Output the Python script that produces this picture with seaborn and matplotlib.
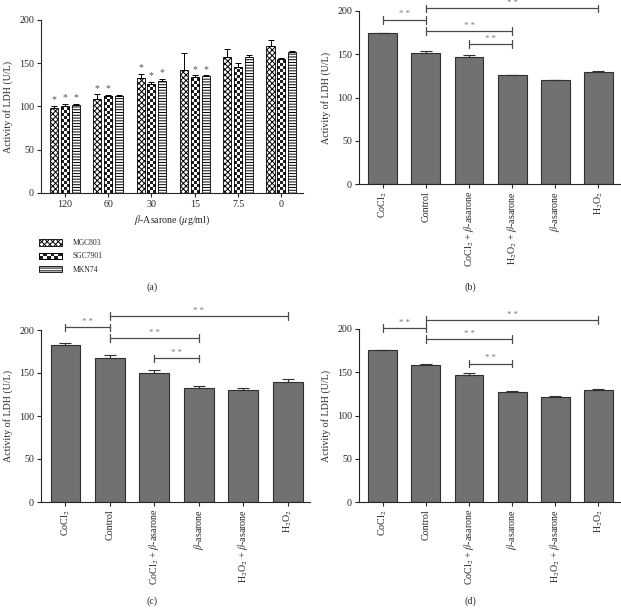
import numpy as np
import pandas as pd
import matplotlib
matplotlib.use("Agg")
import matplotlib.pyplot as plt
import seaborn as sns
from matplotlib.patches import Patch, Rectangle
from matplotlib.legend_handler import HandlerBase

# =========================================================
# DATA
# =========================================================
doses = ["120", "60", "30", "15", "7.5", "0"]
cell_lines = ["MGC803", "SGC7901", "MKN74"]
mgc803 = [98, 109, 133, 142, 157, 170]
mgc803_err = [2.5, 5, 4.5, 20, 9.5, 7]
sgc7901 = [100, 112, 126, 134, 145.5, 155]
sgc7901_err = [2.5, 1.5, 2, 2, 4.5, 1]
mkn74 = [101.5, 112, 129.5, 135, 157, 163]
mkn74_err = [1.5, 1, 2.5, 1, 2.5, 1.5]
star_a = [[1, 1, 1, 0, 0, 0], [1, 1, 1, 1, 0, 0], [1, 0, 1, 1, 0, 0]]

cats_b = ["CoCl$_2$", "Control", "CoCl$_2$ + $\\beta$-asarone",
          "H$_2$O$_2$ + $\\beta$-asarone", "$\\beta$-asarone", "H$_2$O$_2$"]
vals_b = [174, 151.7, 146.7, 125.5, 119.7, 129]
errs_b = [1, 1.5, 3, 1, 1, 1.5]
brackets_b = [(0, 1, 190), (1, 5, 203), (1, 3, 177), (2, 3, 162)]

cats_cd = ["CoCl$_2$", "Control", "CoCl$_2$ + $\\beta$-asarone",
           "$\\beta$-asarone", "H$_2$O$_2$ + $\\beta$-asarone", "H$_2$O$_2$"]
vals_c = [182, 168, 150.5, 132, 130, 140]
errs_c = [3, 2.5, 3, 2.5, 3, 2.5]
brackets_c = [(0, 1, 203), (1, 5, 216), (1, 3, 190.5), (2, 3, 167)]

vals_d = [175.3, 158.8, 146.8, 126.8, 121.8, 130]
errs_d = [0.8, 1.2, 2.2, 1.8, 0.7, 1]
brackets_d = [(0, 1, 201), (1, 5, 210), (1, 3, 188.5), (2, 3, 160)]

# =========================================================
# STYLE
# =========================================================
sns.set_style("ticks")
plt.rcParams["font.family"] = ["Liberation Serif", "DejaVu Serif"]
plt.rcParams["mathtext.fontset"] = "stix"
plt.rcParams["hatch.linewidth"] = 0.7
plt.rcParams["axes.linewidth"] = 0.8

BAR_GREY = "#717171"
EDGE = "#303030"
LINE = "#4a4a4a"
FS = 7.2
CHECKER = np.array([[0.12, 1.0], [1.0, 0.12]])

fig = plt.figure(figsize=(6.21, 6.14), dpi=100)
ax_a = fig.add_axes([41 / 621, 1 - 193 / 614, 262 / 621, 173 / 614])
ax_b = fig.add_axes([359 / 621, 1 - 184 / 614, 261 / 621, 173 / 614])
ax_c = fig.add_axes([41 / 621, 1 - 502 / 614, 269 / 621, 172 / 614])
ax_d = fig.add_axes([359 / 621, 1 - 502 / 614, 261 / 621, 173 / 614])


def style_axis(ax):
    sns.despine(ax=ax)
    ax.set_ylim(0, 200)
    ax.set_yticks([0, 50, 100, 150, 200])
    ax.set_xlim(-0.55, 5.5)
    ax.tick_params(axis="both", labelsize=FS, length=3, width=0.8, pad=2)
    ax.set_ylabel("Activity of LDH (U/L)", fontsize=FS, labelpad=4)
    ax.set_xlabel("")


def checker_fill(ax, bar, ncols=3, sq_y=3.4):
    # black/white checker texture clipped to the bar
    x0, w, h = bar.get_x(), bar.get_width(), bar.get_height()
    nrows = int(np.ceil(h / sq_y))
    grid = np.indices((nrows, ncols)).sum(axis=0) % 2
    img = np.where(grid == 0, 0.12, 1.0)
    im = ax.imshow(img, extent=[x0, x0 + w, 0, nrows * sq_y], origin="lower",
                   cmap="gray", vmin=0, vmax=1, aspect="auto",
                   interpolation="nearest", zorder=bar.get_zorder() - 0.05)
    im.set_clip_path(bar)
    bar.set_facecolor("none")


class CheckerHandler(HandlerBase):
    def create_artists(self, legend, orig_handle, xdescent, ydescent,
                       width, height, fontsize, trans):
        arts = [Rectangle((-xdescent, -ydescent), width, height,
                          facecolor="white", edgecolor="black", lw=0.6,
                          transform=trans)]
        nc, nr = 6, 2
        cw, ch = width / nc, height / nr
        for i in range(nr):
            for j in range(nc):
                if (i + j) % 2 == 0:
                    arts.append(Rectangle((-xdescent + j * cw, -ydescent + i * ch),
                                          cw, ch, facecolor="#1e1e1e",
                                          lw=0, transform=trans))
        arts.append(Rectangle((-xdescent, -ydescent), width, height,
                              facecolor="none", edgecolor="black", lw=0.6,
                              transform=trans))
        return arts


# =========================================================
# (a) grouped bars with hatches
# =========================================================
df_a = pd.DataFrame({
    "dose": doses * 3,
    "line": np.repeat(cell_lines, len(doses)),
    "ldh": mgc803 + sgc7901 + mkn74,
})
sns.barplot(data=df_a, x="dose", y="ldh", hue="line", order=doses,
            hue_order=cell_lines, errorbar=None, width=0.75, gap=0.25,
            palette=["white"] * 3, edgecolor="black", linewidth=0.6,
            legend=False, ax=ax_a)
hatches = ["xxxxxx", None, "------"]
errs_a = [mgc803_err, sgc7901_err, mkn74_err]
vals_a = [mgc803, sgc7901, mkn74]
bar_groups = list(ax_a.containers)
for k, cont in enumerate(bar_groups):
    xs = []
    for bar in cont:
        if hatches[k]:
            bar.set_hatch(hatches[k])
        else:
            checker_fill(ax_a, bar)
        xs.append(bar.get_x() + bar.get_width() / 2)
    xs = np.array(xs)
    ax_a.errorbar(xs, vals_a[k], yerr=[np.zeros(6), errs_a[k]], fmt="none",
                  ecolor="black", elinewidth=0.7, capsize=2, capthick=0.7)
    for i, s in enumerate(star_a[k]):
        if s:
            ax_a.text(xs[i], vals_a[k][i] + errs_a[k][i] + 2, "*",
                      ha="center", va="bottom", fontsize=7, color="#555555")
style_axis(ax_a)
ax_a.set_xlabel("$\\it{\\beta}$-Asarone ($\\it{\\mu}$g/ml)", fontsize=FS,
                labelpad=3)

handles = [Patch(facecolor="white", edgecolor="black", hatch="xxxxxx", lw=0.6),
           Patch(facecolor="white", edgecolor="black", lw=0.6),
           Patch(facecolor="white", edgecolor="black", hatch="------", lw=0.6)]
fig.legend(handles, cell_lines, loc="upper left",
           bbox_to_anchor=(36 / 621, 1 - 236 / 614), frameon=False,
           fontsize=5.5, handlelength=3.0, handleheight=0.9,
           labelspacing=0.7, handletextpad=1.4, borderaxespad=0,
           handler_map={handles[1]: CheckerHandler()})

# =========================================================
# (b), (c), (d) single bars with significance brackets
# =========================================================
def draw_panel(ax, cats, vals, errs, brackets):
    sns.barplot(x=cats, y=vals, order=cats, color=BAR_GREY, saturation=1,
                edgecolor=EDGE, linewidth=0.8, width=0.67, errorbar=None,
                ax=ax)
    xs = np.array([b.get_x() + b.get_width() / 2 for b in ax.patches])
    ax.errorbar(xs, vals, yerr=[np.zeros(len(vals)), errs], fmt="none",
                ecolor=EDGE, elinewidth=0.8, capsize=4.5, capthick=0.8)
    for i0, i1, y in brackets:
        ax.plot([xs[i0], xs[i1]], [y, y], color=LINE, lw=0.9,
                clip_on=False)
        for xx in (xs[i0], xs[i1]):
            ax.plot([xx, xx], [y - 4.5, y + 4.5], color=LINE, lw=0.9,
                    clip_on=False)
        ax.text((xs[i0] + xs[i1]) / 2, y + 1.5, "* *", ha="center",
                va="bottom", fontsize=6.3, color="#777777", clip_on=False)
    style_axis(ax)
    ax.tick_params(axis="x", rotation=90)


draw_panel(ax_b, cats_b, vals_b, errs_b, brackets_b)
draw_panel(ax_c, cats_cd, vals_c, errs_c, brackets_c)
draw_panel(ax_d, cats_cd, vals_d, errs_d, brackets_d)

for lab, x, y in [("(a)", 152, 287), ("(b)", 470, 287),
                  ("(c)", 152, 601), ("(d)", 470, 601)]:
    fig.text(x / 621, 1 - y / 614, lab, ha="center", va="center",
             fontsize=FS)

fig.savefig("out.png", dpi=100)
